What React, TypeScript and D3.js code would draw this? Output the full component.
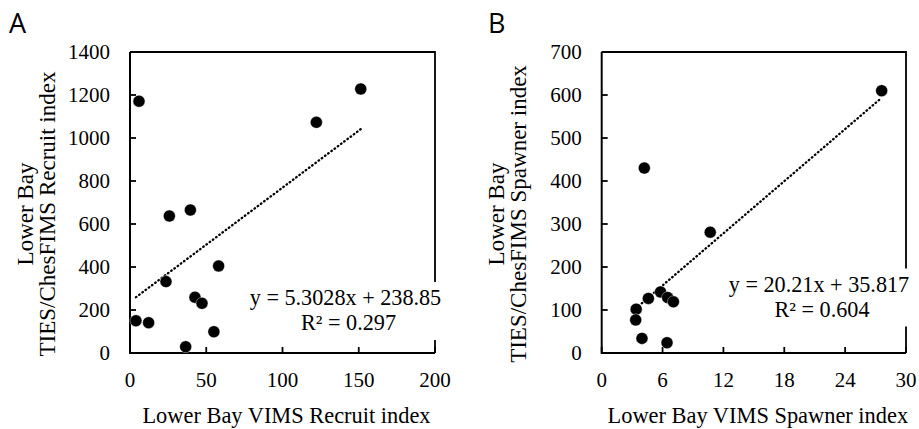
import React from "react";
import * as d3 from "d3";

// Panel A data: Lower Bay VIMS Recruit index vs TIES/ChesFIMS Recruit index
const recruitX = [5.9, 151.3, 122.2, 25.8, 39.6, 58.1, 23.6, 42.6, 47.2, 3.9, 12.2, 55.0, 36.5];
const recruitY = [1171, 1228, 1073, 637, 665, 405, 332, 259, 231, 150, 141, 99, 29];
const recruitXTicks = [0, 50, 100, 150, 200];
const recruitYTicks = [0, 200, 400, 600, 800, 1000, 1200, 1400];
const recruitFit = [5.3028, 238.85];
const recruitEq = ["y = 5.3028x + 238.85", "R² = 0.297"];

// Panel B data: Lower Bay VIMS Spawner index vs TIES/ChesFIMS Spawner index
const spawnerX = [27.6, 4.2, 10.7, 4.6, 5.8, 6.5, 7.07, 3.4, 3.35, 3.97, 6.44];
const spawnerY = [610, 430, 281, 127, 142, 129, 119, 102, 77, 34, 24];
const spawnerXTicks = [0, 6, 12, 18, 24, 30];
const spawnerYTicks = [0, 100, 200, 300, 400, 500, 600, 700];
const spawnerFit = [20.21, 35.817];
const spawnerEq = ["y = 20.21x + 35.817", "R² = 0.604"];

const SERIF = "Liberation Serif, Times New Roman, serif";

type PanelProps = {
  letter: string;
  letterX: number;
  xs: number[];
  ys: number[];
  xTicks: number[];
  yTicks: number[];
  fit: number[];
  eq: string[];
  left: number;
  right: number;
  top: number;
  bottom: number;
  xTitle: string;
  yTitle: string[];
  yTitleX: number;
  eqX: number;
  eqY: number;
  boxW: number;
};

function Panel(p: PanelProps) {
  const x = d3
    .scaleLinear()
    .domain([p.xTicks[0], p.xTicks[p.xTicks.length - 1]])
    .range([p.left, p.right]);
  const y = d3
    .scaleLinear()
    .domain([p.yTicks[0], p.yTicks[p.yTicks.length - 1]])
    .range([p.bottom, p.top]);
  const xMin = d3.min(p.xs) as number;
  const xMax = d3.max(p.xs) as number;
  const line = d3
    .line<number>()
    .x((d) => x(d))
    .y((d) => y(p.fit[0] * d + p.fit[1]));
  const tickLen = 6;
  const cx = (p.left + p.right) / 2;
  const cy = 214;
  return (
    <g>
      <text x={p.letterX} y={33} fontFamily="Open Sans, Noto Sans, sans-serif" fontSize={27}>
        {p.letter}
      </text>
      <path
        d={`M${p.left},${p.top}H${p.right}V${p.bottom}`}
        fill="none"
        stroke="#000"
        strokeWidth={1.8}
      />
      <path
        d={`M${p.left},${p.top}V${p.bottom}H${p.right}`}
        fill="none"
        stroke="#000"
        strokeWidth={2}
      />
      {p.xTicks.map((t) => (
        <g key={"xt" + t}>
          <line x1={x(t)} x2={x(t)} y1={p.bottom} y2={p.bottom - tickLen} stroke="#000" strokeWidth={1.8} />
          <text x={x(t)} y={387} textAnchor="middle" fontFamily={SERIF} fontSize={21}>
            {t}
          </text>
        </g>
      ))}
      {p.yTicks.map((t) => (
        <g key={"yt" + t}>
          <line x1={p.left} x2={p.left + tickLen} y1={y(t)} y2={y(t)} stroke="#000" strokeWidth={1.8} />
          <text
            x={p.left - 20}
            y={y(t) + 7}
            textAnchor="end"
            fontFamily={SERIF}
            fontSize={21}
          >
            {t}
          </text>
        </g>
      ))}
      <path
        d={line([xMin, xMax]) || ""}
        fill="none"
        stroke="#000"
        strokeWidth={2.3}
        strokeLinecap="round"
        strokeDasharray="0.6 3.4"
      />
      {p.xs.map((d, i) => (
        <circle key={"pt" + i} cx={x(d)} cy={y(p.ys[i])} r={6} fill="#000" stroke="#fff" strokeWidth={0.4} />
      ))}
      <rect
        x={p.eqX - p.boxW / 2}
        y={p.eqY - 23}
        width={p.boxW}
        height={58}
        fill="#fff"
      />
      <text x={p.eqX} y={p.eqY} textAnchor="middle" fontFamily={SERIF} fontSize={22.2}>
        {p.eq[0]}
      </text>
      <text x={p.eqX + 3} y={p.eqY + 25} textAnchor="middle" fontFamily={SERIF} fontSize={22.2}>
        {p.eq[1]}
      </text>
      <text x={cx + 4} y={423} textAnchor="middle" fontFamily={SERIF} fontSize={22.4}>
        {p.xTitle}
      </text>
      <g transform={`translate(${p.yTitleX},${cy}) rotate(-90)`}>
        <text x={0} y={0} textAnchor="middle" fontFamily={SERIF} fontSize={23}>
          {p.yTitle[0]}
        </text>
        <text x={0} y={21.5} textAnchor="middle" fontFamily={SERIF} fontSize={23}>
          {p.yTitle[1]}
        </text>
      </g>
    </g>
  );
}

export default function App() {
  return (
    <div>
      <style>{`body{margin:0;background:#fff}`}</style>
      <svg width={919} height={429} style={{ display: "block" }}>
        <rect width={919} height={429} fill="#fff" />
        <Panel
          letter="A"
          letterX={9}
          xs={recruitX}
          ys={recruitY}
          xTicks={recruitXTicks}
          yTicks={recruitYTicks}
          fit={recruitFit}
          eq={recruitEq}
          left={130}
          right={435}
          top={52}
          bottom={353}
          xTitle="Lower Bay VIMS Recruit index"
          yTitle={["Lower Bay", "TIES/ChesFIMS Recruit index"]}
          yTitleX={33}
          eqX={345.5}
          eqY={305}
          boxW={198}
        />
        <Panel
          letter="B"
          letterX={488}
          xs={spawnerX}
          ys={spawnerY}
          xTicks={spawnerXTicks}
          yTicks={spawnerYTicks}
          fit={spawnerFit}
          eq={spawnerEq}
          left={601.7}
          right={906}
          top={52}
          bottom={353}
          xTitle="Lower Bay VIMS Spawner index"
          yTitle={["Lower Bay", "TIES/ChesFIMS Spawner index"]}
          yTitleX={504}
          eqX={819}
          eqY={291.5}
          boxW={180}
        />
      </svg>
    </div>
  );
}
